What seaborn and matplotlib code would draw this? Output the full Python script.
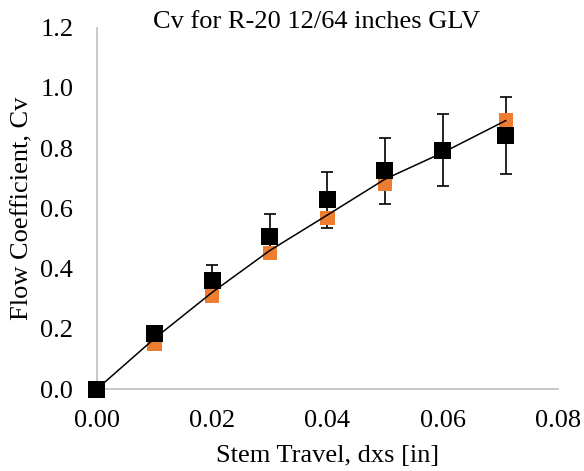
import matplotlib
matplotlib.use("Agg")
import matplotlib.pyplot as plt
import seaborn as sns
import pandas as pd

x_pts = [0.0, 0.01, 0.02, 0.03, 0.04, 0.05, 0.06, 0.071]
cv_measured = [0.0, 0.185, 0.359, 0.506, 0.628, 0.725, 0.794, 0.842]
cv_error = [0.0, 0.02, 0.053, 0.074, 0.093, 0.109, 0.120, 0.127]
cv_model = [0.0, 0.152, 0.309, 0.451, 0.569, 0.681, 0.790, 0.894]
cv_fit = [0.0, 0.168, 0.321, 0.460, 0.578, 0.697, 0.785, 0.892]

sns.set_theme(style="white")
plt.rcParams["font.family"] = ["Liberation Serif", "DejaVu Serif"]

fig = plt.figure(figsize=(5.84, 4.71), dpi=100)
ax = fig.add_axes([0.166, 0.174, 0.789, 0.767])

df = pd.DataFrame({"x": x_pts, "meas": cv_measured, "model": cv_model, "fit": cv_fit})

ax.errorbar(x_pts, cv_measured, yerr=cv_error, fmt="none", ecolor="black",
            elinewidth=1.2, capsize=4.5, capthick=1.2, zorder=1, clip_on=False)
sns.scatterplot(data=df, x="x", y="model", marker="s", s=108, color="#ED7D31",
                edgecolor="none", ax=ax, zorder=2, clip_on=False)
sns.lineplot(data=df, x="x", y="fit", color="black", linewidth=1.1, ax=ax, zorder=3)
sns.scatterplot(data=df, x="x", y="meas", marker="s", s=150, color="black",
                edgecolor="none", ax=ax, zorder=4, clip_on=False)

ax.set_xlim(0, 0.08)
ax.set_ylim(0, 1.2)
ax.set_xticks([0.0, 0.02, 0.04, 0.06, 0.08])
ax.set_xticklabels(["0.00", "0.02", "0.04", "0.06", "0.08"])
ax.set_yticks([0.0, 0.2, 0.4, 0.6, 0.8, 1.0, 1.2])
ax.set_yticklabels(["0.0", "0.2", "0.4", "0.6", "0.8", "1.0", "1.2"])
ax.tick_params(axis="both", labelsize=19, length=0, colors="black")
ax.tick_params(axis="x", pad=15)
ax.tick_params(axis="y", pad=17)

for s in ["top", "right"]:
    ax.spines[s].set_visible(False)
for s in ["left", "bottom"]:
    ax.spines[s].set_color("#BFBFBF")
    ax.spines[s].set_linewidth(1.2)

ax.set_xlabel("Stem Travel, dxs [in]", fontsize=19, color="black")
ax.xaxis.set_label_coords(0.50, -0.155)
ax.set_ylabel("Flow Coefficient, Cv", fontsize=19, color="black")
ax.yaxis.set_label_coords(-0.137, 0.5)
ax.set_title("Cv for R-20 12/64 inches GLV", fontsize=19, pad=0, color="black", x=0.477)

fig.savefig("out.png", dpi=100)
